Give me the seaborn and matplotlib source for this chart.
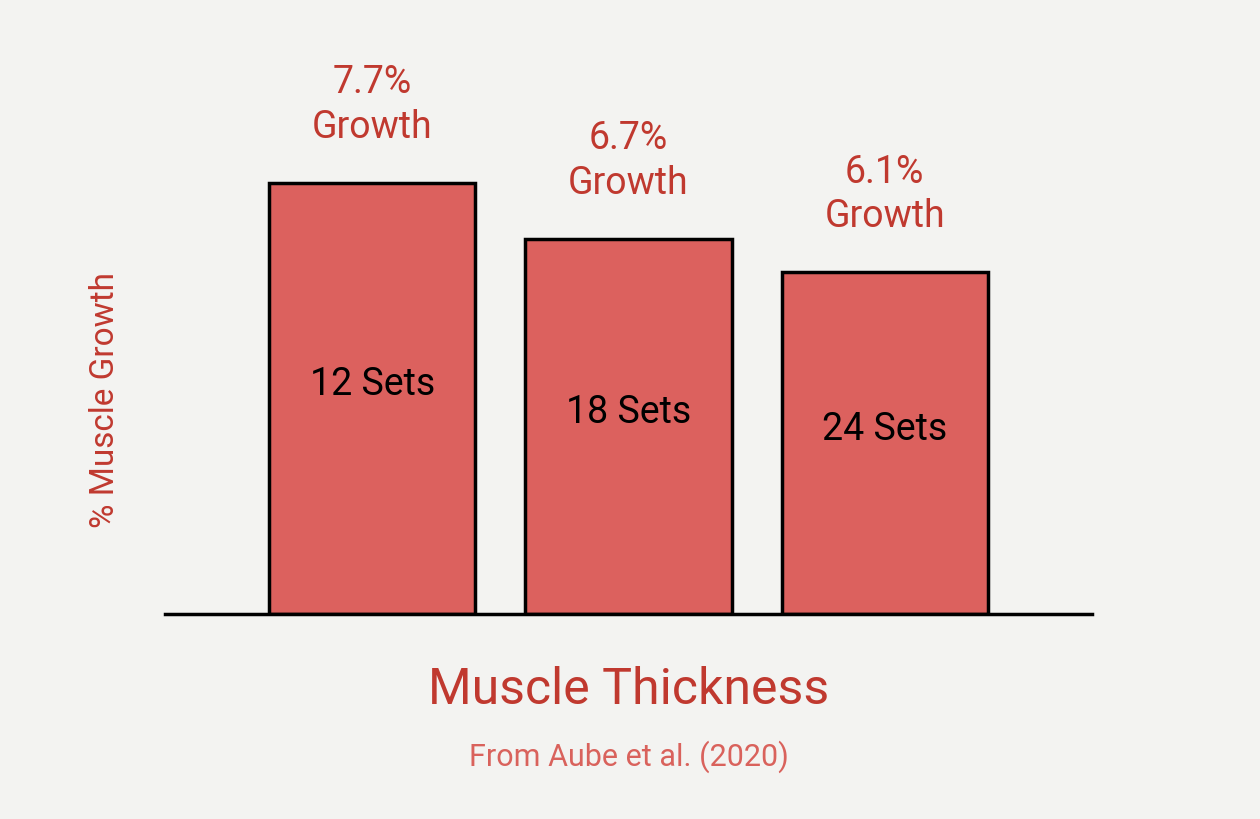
import matplotlib
matplotlib.use("Agg")
import matplotlib.pyplot as plt
import seaborn as sns
import pandas as pd

sets = ["12 Sets", "18 Sets", "24 Sets"]
growth = [7.7, 6.7, 6.1]
growth_labels = ["7.7%\nGrowth", "6.7%\nGrowth", "6.1%\nGrowth"]

bar_color = "#dc615e"
text_red = "#c0392f"
sub_red = "#d9625c"
bg = "#f3f3f1"
font = ["Liberation Sans Narrow", "Roboto", "DejaVu Sans"]
plt.rcParams["font.family"] = font

df = pd.DataFrame({"sets": sets, "growth": growth})

fig = plt.figure(figsize=(12.6, 8.2), dpi=100, facecolor=bg)
ax = fig.add_axes([165 / 1260, 0.25, 927 / 1260, 0.683])
ax.set_facecolor(bg)

sns.barplot(data=df, x="sets", y="growth", color=bar_color, width=0.805,
            edgecolor="black", linewidth=2.5, ax=ax, saturation=1)

for i, (v, lab, s) in enumerate(zip(growth, growth_labels, sets)):
    ax.text(i, v + 0.68, lab, ha="center", va="bottom", fontsize=27,
            color=text_red, linespacing=1.25)
    ax.text(i, v / 2 + 0.27, s, ha="center", va="center", fontsize=27,
            color="black")

ax.set_xlim(-0.81, 2.81)
ax.set_ylim(0, 10)
for side in ["top", "right", "left"]:
    ax.spines[side].set_visible(False)
ax.spines["bottom"].set_linewidth(2.5)
ax.set_xticks([])
ax.set_yticks([])
ax.set_xlabel("")
ax.set_ylabel("")

fig.text(105 / 1260, 1 - 400 / 820, "% Muscle Growth", rotation=90,
         ha="center", va="center", fontsize=24, color=text_red)
fig.text(629 / 1260, 1 - 690 / 820, "Muscle Thickness", ha="center",
         va="center", fontsize=36, color=text_red)
fig.text(629 / 1260, 1 - 757 / 820, "From Aube et al. (2020)", ha="center",
         va="center", fontsize=22, color=sub_red)

fig.savefig("out.png", dpi=100, facecolor=bg)
